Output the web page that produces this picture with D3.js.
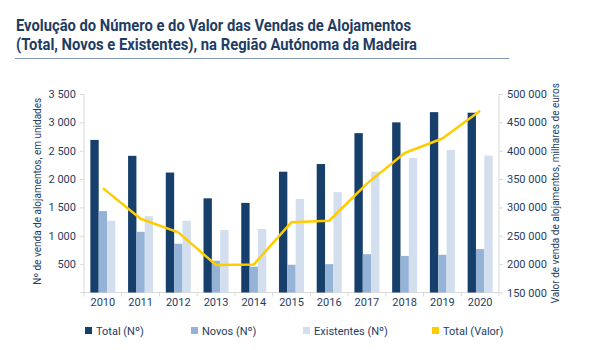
<!DOCTYPE html>
<html>
<head>
<meta charset="utf-8">
<script src="https://cdn.jsdelivr.net/npm/d3@7"></script>
<style>
  body { margin: 0; background: #fff; }
  svg text { font-family: Roboto, "Liberation Sans", sans-serif; fill: #1f3d63; }
  .axis path, .axis line { stroke: #d9d9d9; }
  .axis text { font-size: 11px; fill: #1f3d63; }
</style>
</head>
<body>
<div id="chart"></div>
<script>
// data
const years = ["2010","2011","2012","2013","2014","2015","2016","2017","2018","2019","2020"];
const totalN = [2690, 2410, 2115, 1660, 1580, 2130, 2265, 2810, 3000, 3180, 3170];
const novosN = [1435, 1070, 860, 560, 455, 490, 500, 675, 645, 665, 765];
const existentesN = [1265, 1345, 1265, 1100, 1120, 1650, 1770, 2130, 2370, 2515, 2415];
const totalValor = [334000, 280000, 256000, 198500, 199500, 274000, 276500, 342000, 396000, 421500, 470500];

const seriesNames = ["Total (Nº)", "Novos (Nº)", "Existentes (Nº)", "Total (Valor)"];
const seriesColors = ["#173f6b", "#95b3d7", "#d3dfee", "#ffcc00"];

const leftTicks = [500, 1000, 1500, 2000, 2500, 3000, 3500];
const rightTicks = [150000, 200000, 250000, 300000, 350000, 400000, 450000, 500000];

const W = 592, H = 350;
const svg = d3.select("#chart").append("svg")
    .attr("width", W)
    .attr("height", H);

// title (the original uses a condensed face, so squeeze it to the same width)
svg.append("text")
    .attr("x", 16).attr("y", 31)
    .attr("textLength", 395).attr("lengthAdjust", "spacingAndGlyphs")
    .style("font-size", "16.5px")
    .style("font-weight", "bold")
    .text("Evolução do Número e do Valor das Vendas de Alojamentos");
svg.append("text")
    .attr("x", 16).attr("y", 49.5)
    .attr("textLength", 401).attr("lengthAdjust", "spacingAndGlyphs")
    .style("font-size", "16.5px")
    .style("font-weight", "bold")
    .text("(Total, Novos e Existentes), na Região Autónoma da Madeira");

svg.append("line")
    .attr("x1", 15).attr("x2", 509)
    .attr("y1", 58.5).attr("y2", 58.5)
    .attr("stroke", "#8197b5")
    .attr("stroke-width", 1);

// scales
const plot = { left: 84, right: 499, top: 94, bottom: 292.5 };

const x = d3.scaleBand()
    .domain(years)
    .range([plot.left, plot.right]);

const keys = ["total", "novos", "existentes"];
const x1 = d3.scaleBand()
    .domain(keys)
    .range([0, x.bandwidth()])
    .paddingInner(0)
    .paddingOuter(0.76);

const yL = d3.scaleLinear().domain([0, 3500]).range([plot.bottom, plot.top]);
const yR = d3.scaleLinear().domain([150000, 500000]).range([plot.bottom, plot.top]);

const loc = d3.formatLocale({ decimal: ",", thousands: " ", grouping: [3], currency: ["", "€"] });
const fmt = loc.format(",d");

// axes
const leftAxis = d3.axisLeft(yL).tickValues(leftTicks).tickFormat(fmt).tickSize(4).tickPadding(4);
svg.append("g").attr("class", "axis")
    .attr("transform", `translate(${plot.left},0)`)
    .call(leftAxis)
    .call(g => g.select(".domain").attr("d", `M0,${plot.top}V${plot.bottom}`));

const rightAxis = d3.axisRight(yR).tickValues(rightTicks).tickFormat(fmt).tickSize(4).tickPadding(4);
svg.append("g").attr("class", "axis")
    .attr("transform", `translate(${plot.right},0)`)
    .call(rightAxis)
    .call(g => g.select(".domain").attr("d", `M0,${plot.top}V${plot.bottom}`));

// x axis with ticks at band edges
const xAxisG = svg.append("g").attr("class", "axis")
    .attr("transform", `translate(0,${plot.bottom})`);
xAxisG.append("line")
    .attr("x1", plot.left - 4).attr("x2", plot.right)
    .attr("stroke", "#d9d9d9");
xAxisG.selectAll(".edge")
    .data(years.concat(["end"]))
    .join("line")
    .attr("class", "edge")
    .attr("x1", d => d === "end" ? plot.right : x(d))
    .attr("x2", d => d === "end" ? plot.right : x(d))
    .attr("y1", 0).attr("y2", 4)
    .attr("stroke", "#d9d9d9");
xAxisG.selectAll(".lbl")
    .data(years)
    .join("text")
    .attr("class", "lbl")
    .attr("x", d => x(d) + x.bandwidth() / 2)
    .attr("y", 13)
    .attr("text-anchor", "middle")
    .text(d => d);

// axis titles
svg.append("text")
    .attr("transform", `translate(41,${(plot.top + plot.bottom) / 2 - 2}) rotate(-90)`)
    .attr("text-anchor", "middle")
    .style("font-size", "10px")
    .text("Nº de venda de alojamentos, em unidades");

svg.append("text")
    .attr("transform", `translate(559,${(plot.top + plot.bottom) / 2}) rotate(-90)`)
    .attr("text-anchor", "middle")
    .style("font-size", "10px")
    .text("Valor de venda de alojamentos, milhares de euros");

// bars
const rows = years.map((yr, i) => ({
    year: yr,
    vals: [
        { key: "total", v: totalN[i], c: seriesColors[0] },
        { key: "novos", v: novosN[i], c: seriesColors[1] },
        { key: "existentes", v: existentesN[i], c: seriesColors[2] }
    ]
}));

svg.append("g").selectAll("g")
    .data(rows)
    .join("g")
    .attr("transform", d => `translate(${x(d.year)},0)`)
    .selectAll("rect")
    .data(d => d.vals)
    .join("rect")
    .attr("x", d => x1(d.key))
    .attr("width", x1.bandwidth())
    .attr("y", d => yL(d.v))
    .attr("height", d => yL(0) - yL(d.v))
    .attr("fill", d => d.c);

// line
const line = d3.line()
    .x((d, i) => x(years[i]) + x.bandwidth() / 2)
    .y(d => yR(d));

svg.append("path")
    .datum(totalValor)
    .attr("d", line)
    .attr("fill", "none")
    .attr("stroke", seriesColors[3])
    .attr("stroke-width", 2.5)
    .attr("stroke-linejoin", "round");

// legend
const legendX = [85, 191, 303, 432];
const legend = svg.append("g");
seriesNames.forEach((name, i) => {
    legend.append("rect")
        .attr("x", legendX[i]).attr("y", 327)
        .attr("width", 7).attr("height", 7)
        .attr("fill", seriesColors[i]);
    legend.append("text")
        .attr("x", legendX[i] + 11).attr("y", 334.5)
        .style("font-size", "11px")
        .text(name);
});
</script>
</body>
</html>
